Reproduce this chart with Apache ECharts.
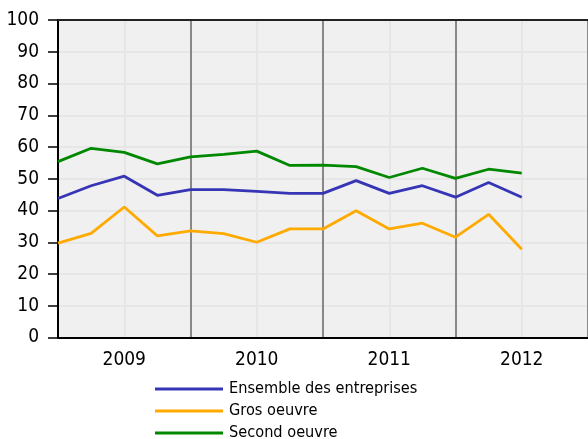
<!DOCTYPE html>
<html>
<head>
<meta charset="utf-8">
<script src="https://cdn.jsdelivr.net/npm/echarts@6/dist/echarts.min.js"></script>
<style>
  html, body { margin: 0; padding: 0; background: #fff; }
  #chart { width: 588px; height: 439px; }
</style>
</head>
<body>
<div id="chart"></div>
<script>
// quarters from start of 2009, one point per quarter
var years = ['2009', '2010', '2011', '2012'];
var ensemble = [43.8, 47.8, 50.8, 44.8, 46.6, 46.6, 46.0, 45.4, 45.4, 49.4, 45.4, 47.8, 44.2, 48.8, 44.2];
var grosOeuvre = [29.7, 32.8, 41.1, 32.0, 33.6, 32.7, 30.0, 34.2, 34.2, 39.9, 34.2, 36.0, 31.6, 38.8, 27.8];
var secondOeuvre = [55.4, 59.6, 58.3, 54.7, 56.9, 57.7, 58.7, 54.2, 54.3, 53.8, 50.4, 53.3, 50.1, 53.0, 51.8];

function toPairs(arr) {
    return arr.map(function (v, i) { return [i, v]; });
}

var chart = echarts.init(document.getElementById('chart'));

var fontFamily = "'DejaVu Sans Condensed', 'DejaVu Sans', sans-serif";

chart.setOption({
    animation: false,
    textStyle: { fontFamily: fontFamily },
    grid: {
        left: 58,
        top: 20,
        width: 532,
        height: 317.5,
        show: true,
        backgroundColor: '#f0f0f0',
        borderWidth: 0
    },
    legend: {
        orient: 'vertical',
        left: 155,
        top: 380,
        height: 80,
        padding: 0,
        itemWidth: 68,
        itemHeight: 3,
        itemGap: 4,
        icon: 'rect',
        textStyle: { color: '#000', fontSize: 16.2, fontFamily: fontFamily, padding: [0, 0, 0, 1], height: 18, lineHeight: 18 },
        data: ['Ensemble des entreprises', 'Gros oeuvre', 'Second oeuvre']
    },
    xAxis: [
        {
            type: 'value',
            min: 0,
            max: 16,
            interval: 2,
            axisLine: { show: true, onZero: false, lineStyle: { color: '#000', width: 2 } },
            axisTick: { show: false },
            axisLabel: {
                color: '#000',
                fontSize: 19,
                margin: 13,
                showMaxLabel: false,
                formatter: function (v) {
                    var k = (v - 2) / 4;
                    return (k >= 0 && k === Math.floor(k) && years[k]) ? years[k] : '';
                }
            },
            splitLine: {
                show: true,
                lineStyle: { color: ['#888', '#e6e6e6'], width: 2 }
            }
        },
        {
            // top frame line of the plot area
            type: 'value',
            position: 'top',
            min: 0,
            max: 16,
            axisLine: { show: true, onZero: false, lineStyle: { color: '#222', width: 2 } },
            axisTick: { show: false },
            axisLabel: { show: false },
            splitLine: { show: false }
        }
    ],
    yAxis: {
        type: 'value',
        min: 0,
        max: 100,
        interval: 10,
        axisLine: { show: true, lineStyle: { color: '#000', width: 2 } },
        axisTick: { show: true, length: 10, lineStyle: { color: '#000', width: 1.5 } },
        axisLabel: { color: '#000', fontSize: 19, margin: 19 },
        splitLine: { show: true, lineStyle: { color: '#e6e6e6', width: 2 } }
    },
    series: [
        {
            name: 'Ensemble des entreprises',
            type: 'line',
            data: toPairs(ensemble),
            symbol: 'none',
            color: '#3535b5',
            lineStyle: { width: 2.8 }
        },
        {
            name: 'Gros oeuvre',
            type: 'line',
            data: toPairs(grosOeuvre),
            symbol: 'none',
            color: '#ffaa00',
            lineStyle: { width: 2.8 }
        },
        {
            name: 'Second oeuvre',
            type: 'line',
            data: toPairs(secondOeuvre),
            symbol: 'none',
            color: '#008800',
            lineStyle: { width: 2.8 }
        }
    ]
});
</script>
</body>
</html>
